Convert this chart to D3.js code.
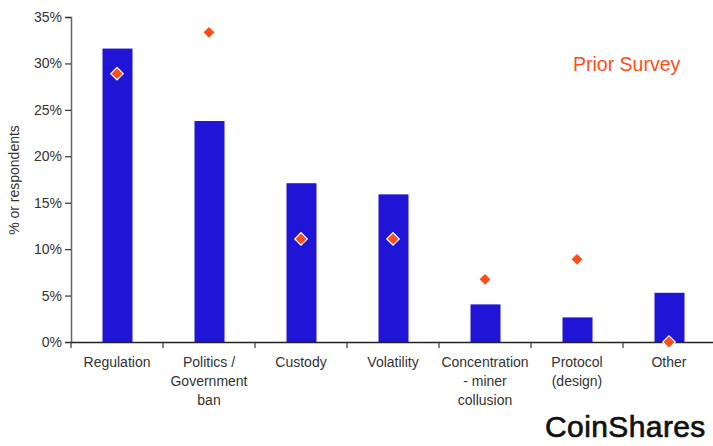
<!DOCTYPE html>
<html><head><meta charset="utf-8">
<script src="https://cdn.jsdelivr.net/npm/d3@7"></script>
<style>html,body{margin:0;padding:0;background:#fff;overflow:hidden}</style>
</head><body>
<svg id="c" width="713" height="446"></svg>
<script>
const categories = [["Regulation"],["Politics /","Government","ban"],["Custody"],["Volatility"],["Concentration","- miner","collusion"],["Protocol","(design)"],["Other"]];
const currentSurvey = [31.6, 23.8, 17.1, 15.9, 4.05, 2.65, 5.3];
const priorSurvey = [28.9, 33.35, 11.1, 11.1, 6.75, 8.9, 0];
const yTicks = [0, 5, 10, 15, 20, 25, 30, 35];

const svg = d3.select("#c");
const font = "'Liberation Sans', Arial, sans-serif";
const x = d3.scaleBand().domain(d3.range(categories.length)).range([71, 715]);
const y = d3.scaleLinear().domain([0, 35]).range([342, 17]);

// bars
svg.append("g").selectAll("rect").data(currentSurvey).join("rect")
  .attr("x", (d,i) => x(i) + x.bandwidth()/2 - 14.5)
  .attr("width", 30)
  .attr("y", d => y(d))
  .attr("height", d => y(0) - y(d))
  .attr("fill", "#2015d6");

// y axis
const ya = svg.append("g").attr("transform", "translate(71,0)")
  .call(d3.axisLeft(y).tickValues(yTicks).tickFormat(d => d + "%").tickSize(6).tickPadding(3));
ya.select(".domain").attr("stroke", "#666").attr("stroke-width", 1.5);
ya.selectAll(".tick line").attr("stroke", "#333").attr("stroke-width", 1.2);
ya.selectAll("text").attr("font-family", font).attr("font-size", 14).attr("fill", "#333");

// x axis
const xa = svg.append("g").attr("transform", "translate(0,342)")
  .call(d3.axisBottom(x).tickSize(0).tickFormat(""));
xa.select(".domain").attr("stroke", "#222").attr("stroke-width", 1.5);
xa.selectAll(".tick").remove();
// boundary tick marks
svg.append("g").selectAll("line").data(d3.range(categories.length + 1)).join("line")
  .attr("x1", i => i < categories.length ? x(i) : x.range()[1])
  .attr("x2", i => i < categories.length ? x(i) : x.range()[1])
  .attr("y1", 342).attr("y2", 348)
  .attr("stroke", "#333").attr("stroke-width", 1.2);

// category labels
const lab = svg.append("g").selectAll("text").data(categories).join("text")
  .attr("font-family", font).attr("font-size", 14).attr("fill", "#333")
  .attr("text-anchor", "middle");
lab.each(function(lines, i) {
  const t = d3.select(this);
  lines.forEach((l, j) => {
    t.append("tspan").attr("x", x(i) + x.bandwidth()/2).attr("y", 367 + j*19).text(l);
  });
});

// prior survey diamonds
svg.append("g").selectAll("path").data(priorSurvey).join("path")
  .attr("d", d3.symbol().type(d3.symbolSquare).size(78))
  .attr("transform", (d,i) => `translate(${x(i) + x.bandwidth()/2},${y(d)}) rotate(45)`)
  .attr("fill", "#ff4d17").attr("stroke", "#fff").attr("stroke-width", 1.2);

// y label
svg.append("text").attr("transform", "translate(19,180) rotate(-90)")
  .attr("text-anchor", "middle").attr("font-family", font).attr("font-size", 14).attr("fill", "#333")
  .text("% or respondents");

// legend text
svg.append("text").attr("x", 573).attr("y", 71).attr("font-family", font).attr("font-size", 19.5)
  .attr("fill", "#ff4d17").text("Prior Survey");

// logo
svg.append("text").attr("x", 545).attr("y", 437).attr("font-family", font).attr("font-size", 30)
  .attr("fill", "#111").attr("stroke", "#111").attr("stroke-width", 0.7)
  .attr("letter-spacing", 0.4).text("CoinShares");

// source (cut off at the bottom edge, as in the reference)
svg.append("text").attr("x", 40).attr("y", 454).attr("font-family", font).attr("font-size", 11)
  .attr("fill", "#888").text("Source: Bloomberg, CoinShares, data available as of close 20 January 2023");
</script>
</body></html>
